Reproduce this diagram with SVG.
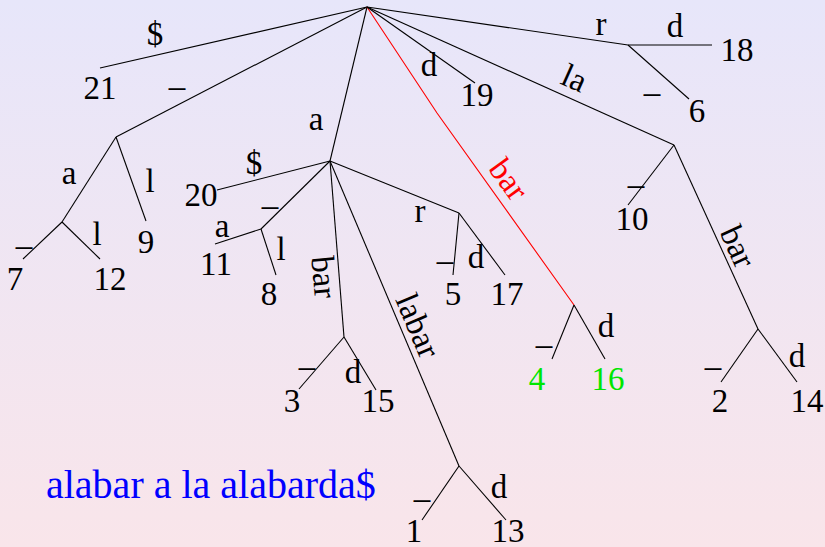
<svg xmlns="http://www.w3.org/2000/svg" width="825" height="547" viewBox="0 0 825 547">
<defs>
<linearGradient id="bg" x1="0" y1="0" x2="0" y2="1">
<stop offset="0" stop-color="#e7e6fa"/>
<stop offset="1" stop-color="#f9e5ea"/>
</linearGradient>
<style>
text{font-family:"Liberation Serif","Times New Roman",serif;font-size:33px;fill:#000;text-anchor:middle}
.e{fill:none;stroke:#000;stroke-width:1.1}
.red{stroke:#ff0000}
.g{fill:#00e600}
.rl{fill:#ff0000}
.cap{font-size:40px;fill:#0000ff;text-anchor:start}
</style>
</defs>
<rect width="825" height="547" fill="url(#bg)"/>

<g id="connectors">
<line class="e" x1="367" y1="7" x2="100" y2="68"/>
<line class="e" x1="367" y1="7" x2="116" y2="137"/>
<line class="e" x1="367" y1="7" x2="330" y2="161"/>
<polyline class="e red" points="367,7 437,113 574,305"/>
<line class="e" x1="367" y1="7" x2="475" y2="83"/>
<line class="e" x1="367" y1="7" x2="674" y2="145"/>
<line class="e" x1="367" y1="7" x2="628" y2="45"/>
<line class="e" x1="116" y1="137" x2="62" y2="222"/>
<line class="e" x1="116" y1="137" x2="146" y2="221"/>
<line class="e" x1="62" y1="222" x2="23" y2="259"/>
<line class="e" x1="62" y1="222" x2="100" y2="259"/>
<line class="e" x1="330" y1="161" x2="217" y2="190"/>
<line class="e" x1="330" y1="161" x2="261" y2="229"/>
<line class="e" x1="330" y1="161" x2="344" y2="337"/>
<line class="e" x1="330" y1="161" x2="459" y2="466"/>
<line class="e" x1="330" y1="161" x2="459" y2="213"/>
<line class="e" x1="261" y1="229" x2="215" y2="244"/>
<line class="e" x1="261" y1="229" x2="276" y2="275"/>
<line class="e" x1="344" y1="337" x2="299" y2="389"/>
<line class="e" x1="344" y1="337" x2="376" y2="390"/>
<line class="e" x1="459" y1="466" x2="422" y2="520"/>
<line class="e" x1="459" y1="466" x2="506" y2="520"/>
<line class="e" x1="459" y1="213" x2="453" y2="275"/>
<line class="e" x1="459" y1="213" x2="505" y2="275"/>
<line class="e" x1="574" y1="305" x2="552" y2="359"/>
<line class="e" x1="574" y1="305" x2="605" y2="359"/>
<line class="e" x1="674" y1="145" x2="628" y2="205"/>
<line class="e" x1="674" y1="145" x2="758" y2="329"/>
<line class="e" x1="758" y1="329" x2="721" y2="382"/>
<line class="e" x1="758" y1="329" x2="797" y2="382"/>
<line class="e" x1="628" y1="45" x2="712" y2="45"/>
<line class="e" x1="628" y1="45" x2="689" y2="99"/>

<text x="155" y="45">$</text>
<text x="177" y="86">_</text>
<text x="69" y="184">a</text>
<text x="24" y="245">_</text>
<text x="97" y="245">l</text>
<text x="150" y="192">l</text>
<text x="316" y="130">a</text>
<text x="254" y="174">$</text>
<text x="270" y="205">_</text>
<text x="222" y="237">a</text>
<text x="281" y="260">l</text>
<text transform="translate(323,277) rotate(85)" y="10">bar</text>
<text x="307" y="366">_</text>
<text x="353" y="383">d</text>
<text transform="translate(417,326) rotate(67)" y="10">labar</text>
<text x="422" y="498">_</text>
<text x="499" y="498">d</text>
<text x="420" y="222">r</text>
<text x="445" y="260">_</text>
<text x="476" y="268">d</text>
<text class="rl" transform="translate(508,180) rotate(54)" y="10">bar</text>
<text x="544" y="344">_</text>
<text x="606" y="337">d</text>
<text x="429" y="76">d</text>
<text transform="translate(574,79) rotate(24)" y="10">la</text>
<text x="636" y="184">_</text>
<text transform="translate(737,247) rotate(65.5)" y="10">bar</text>
<text x="713" y="366">_</text>
<text x="797" y="367">d</text>
<text x="601" y="35">r</text>
<text x="675" y="37">d</text>
<text x="652" y="92">_</text>
</g>

<g id="leaf-21"><text x="100" y="99">21</text></g>
<g id="leaf-7"><text x="15" y="290">7</text></g>
<g id="leaf-12"><text x="110" y="290">12</text></g>
<g id="leaf-9"><text x="146" y="253">9</text></g>
<g id="leaf-20"><text x="201" y="206">20</text></g>
<g id="leaf-11"><text x="216" y="275">11</text></g>
<g id="leaf-8"><text x="269" y="305">8</text></g>
<g id="leaf-3"><text x="292" y="412">3</text></g>
<g id="leaf-15"><text x="378" y="412">15</text></g>
<g id="leaf-1"><text x="414" y="542">1</text></g>
<g id="leaf-13"><text x="508" y="542">13</text></g>
<g id="leaf-5"><text x="453" y="305">5</text></g>
<g id="leaf-17"><text x="507" y="305">17</text></g>
<g id="leaf-4"><text class="g" x="537" y="390">4</text></g>
<g id="leaf-16"><text class="g" x="608" y="390">16</text></g>
<g id="leaf-19"><text x="477" y="106">19</text></g>
<g id="leaf-10"><text x="632" y="230">10</text></g>
<g id="leaf-2"><text x="720" y="412">2</text></g>
<g id="leaf-14"><text x="807" y="412">14</text></g>
<g id="leaf-18"><text x="737" y="61">18</text></g>
<g id="leaf-6"><text x="697" y="122">6</text></g>

<g id="caption"><text class="cap" x="46" y="498">alabar a la alabarda$</text></g>
</svg>
